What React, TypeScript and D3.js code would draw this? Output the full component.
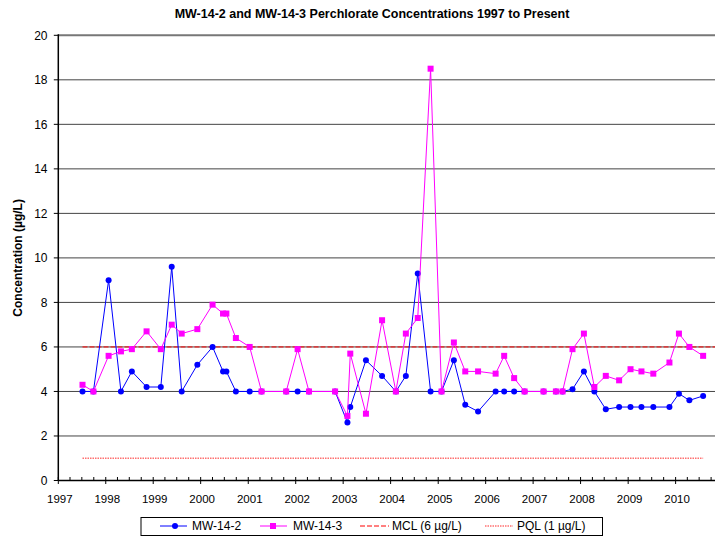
import React from "react";
import * as d3 from "d3";

// Sampling dates (decimal years) shared by both wells
const sampleDates: number[] = [
  1997.51, 1997.74, 1998.06, 1998.32, 1998.55, 1998.86, 1999.16, 1999.39, 1999.6, 1999.93,
  2000.25, 2000.47, 2000.54, 2000.74, 2001.03, 2001.28, 2001.8, 2002.04, 2002.28, 2002.83,
  2003.09, 2003.15, 2003.48, 2003.82, 2004.11, 2004.32, 2004.57, 2004.84, 2005.07, 2005.33,
  2005.57, 2005.84, 2006.21, 2006.39, 2006.6, 2006.82, 2007.22, 2007.48, 2007.62, 2007.83,
  2008.07, 2008.29, 2008.53, 2008.81, 2009.05, 2009.28, 2009.53, 2009.87, 2010.07, 2010.29,
  2010.58,
];

const mw142: number[] = [
  4.0, 4.0, 9.0, 4.0, 4.9, 4.2, 4.2, 9.6, 4.0, 5.2,
  6.0, 4.9, 4.9, 4.0, 4.0, 4.0, 4.0, 4.0, 4.0, 4.0,
  2.6, 3.3, 5.4, 4.7, 4.0, 4.7, 9.3, 4.0, 4.0, 5.4,
  3.4, 3.1, 4.0, 4.0, 4.0, 4.0, 4.0, 4.0, 4.0, 4.1,
  4.9, 4.0, 3.2, 3.3, 3.3, 3.3, 3.3, 3.3, 3.9, 3.6,
  3.8,
];

const mw143: number[] = [
  4.3, 4.0, 5.6, 5.8, 5.9, 6.7, 5.9, 7.0, 6.6, 6.8,
  7.9, 7.5, 7.5, 6.4, 6.0, 4.0, 4.0, 5.9, 4.0, 4.0,
  2.9, 5.7, 3.0, 7.2, 4.0, 6.6, 7.3, 18.5, 4.0, 6.2,
  4.9, 4.9, 4.8, 5.6, 4.6, 4.0, 4.0, 4.0, 4.0, 5.9,
  6.6, 4.2, 4.7, 4.5, 5.0, 4.9, 4.8, 5.3, 6.6, 6.0,
  5.6,
];

const mclDates: number[] = [1997.51, 2010.83];
const mclValues: number[] = [6, 6];
const pqlDates: number[] = [1997.51, 2010.58];
const pqlValues: number[] = [1, 1];

const yTicks: number[] = [0, 2, 4, 6, 8, 10, 12, 14, 16, 18, 20];
const yearTicks: number[] = [1997, 1998, 1999, 2000, 2001, 2002, 2003, 2004, 2005, 2006, 2007, 2008, 2009, 2010];
const xDomain: number[] = [1997.0, 2010.83];

const title = "MW-14-2 and MW-14-3 Perchlorate Concentrations 1997 to Present";
const yTitle = "Concentration (\u00b5g/L)";
const legendLabels: string[] = ["MW-14-2", "MW-14-3", "MCL (6 \u00b5g/L)", "PQL (1 \u00b5g/L)"];

function toDate(dy: number): Date {
  const y = Math.floor(dy);
  const start = new Date(y, 0, 1).getTime();
  const end = new Date(y + 1, 0, 1).getTime();
  return new Date(start + (dy - y) * (end - start));
}

const FONT = "'Liberation Sans', Arial, sans-serif";

export default function App() {
  const W = 715;
  const H = 538;
  const left = 58.3;
  const right = 715;
  const top = 35.3;
  const bottom = 480.5;

  const x = d3.scaleTime().domain([toDate(xDomain[0]), toDate(xDomain[1])]).range([left, right]);
  const y = d3.scaleLinear().domain([0, 20]).range([bottom, top]);

  const line = d3
    .line<[number, number]>()
    .x((d) => x(toDate(d[0])))
    .y((d) => y(d[1]));

  const s1: [number, number][] = sampleDates.map((d, i) => [d, mw142[i]]);
  const s2: [number, number][] = sampleDates.map((d, i) => [d, mw143[i]]);
  const mcl: [number, number][] = mclDates.map((d, i) => [d, mclValues[i]]);
  const pql: [number, number][] = pqlDates.map((d, i) => [d, pqlValues[i]]);

  // quarterly minor ticks
  const quarterTicks: Date[] = d3.timeMonth
    .every(3)!
    .range(toDate(xDomain[0]), toDate(xDomain[1]))
    .filter((d) => d.getMonth() !== 0);

  const legendY = 526;

  return (
    <svg
      width={W}
      height={H}
      style={{ position: "absolute", left: 0, top: 0, background: "#fff" }}
      fontFamily={FONT}
    >
      <rect x={0} y={0} width={W} height={H} fill="#fff" />
      <text x={372} y={18} textAnchor="middle" fontSize={12.5} fontWeight="bold" fill="#000">
        {title}
      </text>

      {/* gridlines */}
      {yTicks
        .filter((t) => t > 0)
        .map((t) => (
          <line
            key={"g" + t}
            x1={left}
            x2={right}
            y1={y(t)}
            y2={y(t)}
            stroke={t === 20 ? "#777" : "#444"}
            strokeWidth={t === 20 ? 2 : 1}
          />
        ))}

      {/* y axis */}
      <line x1={left} x2={left} y1={top - 1} y2={bottom} stroke="#000" strokeWidth={1.5} />
      {yTicks.map((t) => (
        <g key={"yt" + t}>
          <line x1={left - 4.5} x2={left} y1={y(t)} y2={y(t)} stroke="#000" />
          <text x={47.5} y={y(t)} dy="0.36em" textAnchor="end" fontSize={12} fill="#000">
            {t}
          </text>
        </g>
      ))}

      {/* x axis */}
      <line x1={left} x2={right} y1={bottom} y2={bottom} stroke="#000" strokeWidth={1.5} />
      {quarterTicks.map((d, i) => (
        <line key={"q" + i} x1={x(d)} x2={x(d)} y1={bottom - 3.5} y2={bottom} stroke="#000" />
      ))}
      {yearTicks.map((yr) => (
        <g key={"xt" + yr}>
          <line x1={x(toDate(yr))} x2={x(toDate(yr))} y1={bottom - 3.5} y2={bottom + 3.5} stroke="#000" />
          <text x={x(toDate(yr)) + 1.5} y={503} textAnchor="middle" fontSize={11.5} fill="#000">
            {yr}
          </text>
        </g>
      ))}

      <text
        transform={`translate(22,${(top + bottom) / 2}) rotate(-90)`}
        textAnchor="middle"
        fontSize={12}
        fontWeight="bold"
        fill="#000"
      >
        {yTitle}
      </text>

      {/* reference lines */}
      <path d={line(pql) || ""} fill="none" stroke="#ff7070" strokeWidth={1.5} strokeDasharray="1.5,1" />
      <path d={line(mcl) || ""} fill="none" stroke="#ff0000" strokeWidth={1} strokeDasharray="5,2" />

      {/* series */}
      <path d={line(s1) || ""} fill="none" stroke="#0000ff" strokeWidth={1} />
      {s1.map((d, i) => (
        <circle key={"c" + i} cx={x(toDate(d[0]))} cy={y(d[1])} r={3} fill="#0000ff" />
      ))}
      <path d={line(s2) || ""} fill="none" stroke="#ff00ff" strokeWidth={1} />
      {s2.map((d, i) => (
        <rect key={"s" + i} x={x(toDate(d[0])) - 3} y={y(d[1]) - 3} width={6} height={6} fill="#ff00ff" />
      ))}

      {/* legend */}
      <rect x={141} y={517.5} width={461.5} height={18} fill="#fff" stroke="#000" strokeWidth={1} />
      <line x1={160} x2={187} y1={legendY} y2={legendY} stroke="#0000ff" />
      <circle cx={175} cy={legendY} r={3} fill="#0000ff" />
      <text x={192} y={legendY} dy="0.36em" fontSize={12} fill="#000">{legendLabels[0]}</text>
      <line x1={260} x2={287} y1={legendY} y2={legendY} stroke="#ff00ff" />
      <rect x={270} y={legendY - 3} width={6} height={6} fill="#ff00ff" />
      <text x={293} y={legendY} dy="0.36em" fontSize={12} fill="#000">{legendLabels[1]}</text>
      <line x1={360} x2={389} y1={legendY} y2={legendY} stroke="#ff0000" strokeDasharray="5,2" />
      <text x={392} y={legendY} dy="0.36em" fontSize={12} fill="#000">{legendLabels[2]}</text>
      <line x1={485} x2={513} y1={legendY} y2={legendY} stroke="#ff7070" strokeWidth={1.5} strokeDasharray="1.5,1" />
      <text x={517} y={legendY} dy="0.36em" fontSize={12} fill="#000">{legendLabels[3]}</text>
    </svg>
  );
}
